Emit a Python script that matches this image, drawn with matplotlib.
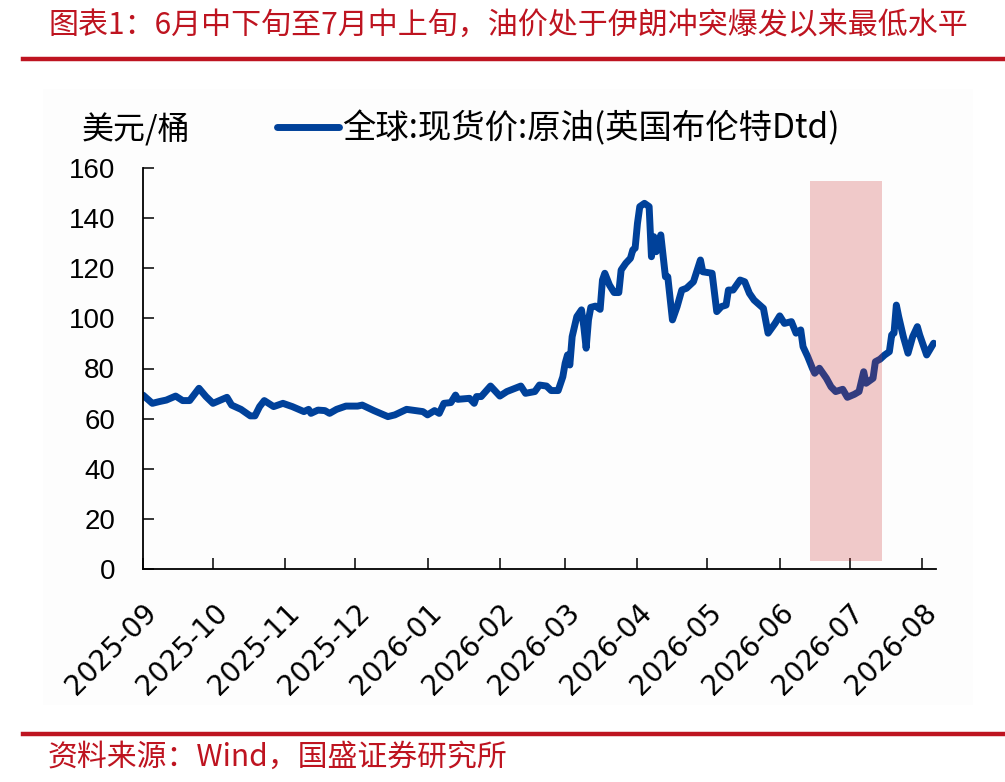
import numpy as np
import pandas as pd
import matplotlib
matplotlib.use('Agg')
import matplotlib.pyplot as plt
import matplotlib.dates as mdates
from matplotlib.patches import Rectangle
from matplotlib.lines import Line2D

plt.rcParams['font.family'] = ['Noto Sans CJK SC', 'DejaVu Sans']

# Brent Dtd spot price
dates = ['2025-09-01', '2025-09-05', '2025-09-08', '2025-09-11', '2025-09-15', '2025-09-18',
         '2025-09-21', '2025-09-25', '2025-09-28', '2025-10-01', '2025-10-07', '2025-10-09',
         '2025-10-13', '2025-10-17', '2025-10-19', '2025-10-21', '2025-10-23', '2025-10-27',
         '2025-10-31', '2025-11-04', '2025-11-09', '2025-11-11', '2025-11-12', '2025-11-15',
         '2025-11-18', '2025-11-20', '2025-11-23', '2025-11-27', '2025-12-02', '2025-12-04',
         '2025-12-09', '2025-12-15', '2025-12-18', '2025-12-23', '2025-12-30', '2026-01-01',
         '2026-01-04', '2026-01-06', '2026-01-08', '2026-01-11', '2026-01-13', '2026-01-14',
         '2026-01-19', '2026-01-21', '2026-01-22', '2026-01-24', '2026-01-28', '2026-02-01',
         '2026-02-04', '2026-02-10', '2026-02-12', '2026-02-16', '2026-02-18', '2026-02-21',
         '2026-02-23', '2026-02-26', '2026-02-28', '2026-03-01', '2026-03-02', '2026-03-03',
         '2026-03-04', '2026-03-06', '2026-03-08', '2026-03-09', '2026-03-10', '2026-03-11',
         '2026-03-12', '2026-03-14', '2026-03-16', '2026-03-17', '2026-03-18', '2026-03-20',
         '2026-03-22', '2026-03-24', '2026-03-25', '2026-03-27', '2026-03-29', '2026-03-30',
         '2026-03-31', '2026-04-01', '2026-04-02', '2026-04-04', '2026-04-06', '2026-04-07',
         '2026-04-08', '2026-04-09', '2026-04-11', '2026-04-13', '2026-04-14', '2026-04-16',
         '2026-04-18', '2026-04-20', '2026-04-22', '2026-04-25', '2026-04-28', '2026-04-29',
         '2026-05-03', '2026-05-05', '2026-05-07', '2026-05-09', '2026-05-10', '2026-05-12',
         '2026-05-15', '2026-05-17', '2026-05-19', '2026-05-21', '2026-05-25', '2026-05-27',
         '2026-05-30', '2026-06-01', '2026-06-03', '2026-06-06', '2026-06-08', '2026-06-10',
         '2026-06-11', '2026-06-13', '2026-06-15', '2026-06-16', '2026-06-18', '2026-06-21',
         '2026-06-23', '2026-06-25', '2026-06-28', '2026-06-30', '2026-07-03', '2026-07-05',
         '2026-07-07', '2026-07-08', '2026-07-11', '2026-07-12', '2026-07-14', '2026-07-16',
         '2026-07-18', '2026-07-19', '2026-07-20', '2026-07-21', '2026-07-22', '2026-07-24',
         '2026-07-26', '2026-07-28', '2026-07-30', '2026-07-31', '2026-08-03', '2026-08-06']
prices = [69.4, 66.1, 66.8, 67.4, 69.0, 67.2,
          67.2, 72.1, 68.8, 66.1, 68.5, 65.4,
          63.7, 61.1, 61.1, 64.8, 67.2, 64.8,
          66.1, 64.8, 62.8, 63.7, 62.1, 63.4,
          63.2, 62.1, 63.7, 65.0, 65.0, 65.4,
          63.2, 60.8, 61.5, 63.7, 62.8, 61.5,
          63.2, 62.1, 66.1, 66.4, 69.4, 67.7,
          68.1, 66.1, 68.8, 68.8, 73.0, 69.0,
          70.8, 73.0, 70.1, 70.8, 73.4, 73.0,
          71.2, 71.2, 76.7, 82.1, 85.4, 81.4,
          92.7, 100.7, 103.4, 96.7, 88.1, 99.4,
          104.4, 104.9, 103.6, 115.3, 118.0, 113.3,
          110.3, 110.3, 119.3, 122.0, 124.0, 127.3,
          128.0, 137.9, 144.6, 145.9, 144.6, 124.6,
          132.6, 126.6, 133.3, 116.6, 116.6, 99.4,
          104.7, 111.3, 112.0, 114.6, 123.3, 118.6,
          118.0, 102.7, 104.7, 105.3, 111.3, 111.3,
          115.3, 114.6, 110.0, 107.3, 104.0, 94.1,
          98.0, 101.0, 98.0, 98.7, 94.1, 95.4,
          88.7, 84.7, 80.1, 78.1, 80.1, 76.1,
          72.7, 70.8, 71.7, 68.5, 69.7, 70.8,
          78.7, 74.1, 76.1, 82.7, 83.7, 85.4,
          86.7, 93.4, 94.1, 105.3, 100.7, 92.7,
          86.1, 92.7, 96.7, 93.4, 85.4, 90.1]

shade_period = ['2026-06-14', '2026-07-15']
shade_range = [3, 155]
series_name = '全球:现货价:原油(英国布伦特Dtd)'
unit = '美元/桶'
title = '图表1：6月中下旬至7月中上旬，油价处于伊朗冲突爆发以来最低水平'
source = '资料来源：Wind，国盛证券研究所'

red = '#BE1420'
blue = '#00419A'

fig = plt.figure(figsize=(10.05, 7.82), dpi=100)

# faint panel behind the chart
fig.patches.append(Rectangle((43 / 1005, 1 - 705 / 782), 930 / 1005, 616 / 782,
                             transform=fig.transFigure, facecolor='#fdfdfd',
                             edgecolor='none', zorder=-5))

ax = fig.add_axes([143 / 1005, 1 - 569 / 782, 793 / 1005, 401 / 782])
ax.set_zorder(2)
ax.patch.set_alpha(0)

x = pd.to_datetime(dates)
ax.plot(x, prices, color=blue, lw=5.0, solid_joinstyle='round', solid_capstyle='round', zorder=2)

s0, s1 = pd.to_datetime(shade_period)
ax.fill_between([s0, s1], shade_range[0], shade_range[1], color='#CB2F2F', alpha=0.25,
                lw=0, zorder=3)

ax.set_ylim(0, 160)
ax.set_yticks(range(0, 161, 20))
ax.set_xlim(pd.Timestamp('2025-09-01'), pd.Timestamp('2026-08-07'))
ax.xaxis.set_major_locator(mdates.MonthLocator())
ax.xaxis.set_major_formatter(mdates.DateFormatter('%Y-%m'))

for side in ['top', 'right']:
    ax.spines[side].set_visible(False)
for side in ['left', 'bottom']:
    ax.spines[side].set_linewidth(1.3)

ax.tick_params(axis='both', direction='in', length=8, width=1.1)
ax.tick_params(axis='y', pad=20, labelsize=20)
ax.tick_params(axis='x', pad=21, labelsize=20)
for lab in ax.get_yticklabels():
    lab.set_fontfamily('Liberation Sans')
for lab in ax.get_xticklabels():
    lab.set_fontfamily('DejaVu Sans')
    lab.set_rotation(45)
    lab.set_ha('right')
    lab.set_va('top')
    lab.set_rotation_mode('anchor')

# unit and legend
fig.text(82 / 1005, 1 - 130 / 782, unit, fontsize=23, va='center', ha='left')
handle = Line2D([], [], color=blue, lw=5.0, solid_capstyle='round')
fig.legend([handle], [series_name], loc='center left',
           bbox_to_anchor=(277 / 1005, 1 - 129 / 782), bbox_transform=fig.transFigure,
           frameon=False, fontsize=24, handlelength=1.85, handletextpad=0.12,
           borderpad=0, borderaxespad=0)

# title, rules and source
fig.text(48 / 1005, 1 - 25 / 782, title, fontsize=21.6, color=red, va='center', ha='left')
fig.add_artist(Line2D([23 / 1005, 1], [1 - 59 / 782, 1 - 59 / 782], color=red, lw=3.2,
                      transform=fig.transFigure))
fig.add_artist(Line2D([23 / 1005, 1], [1 - 734 / 782, 1 - 734 / 782], color=red, lw=3.2,
                      transform=fig.transFigure))
fig.text(48 / 1005, 1 - 757 / 782, source, fontsize=21.5, color=red, va='center', ha='left')

fig.savefig('out.png', dpi=100)
